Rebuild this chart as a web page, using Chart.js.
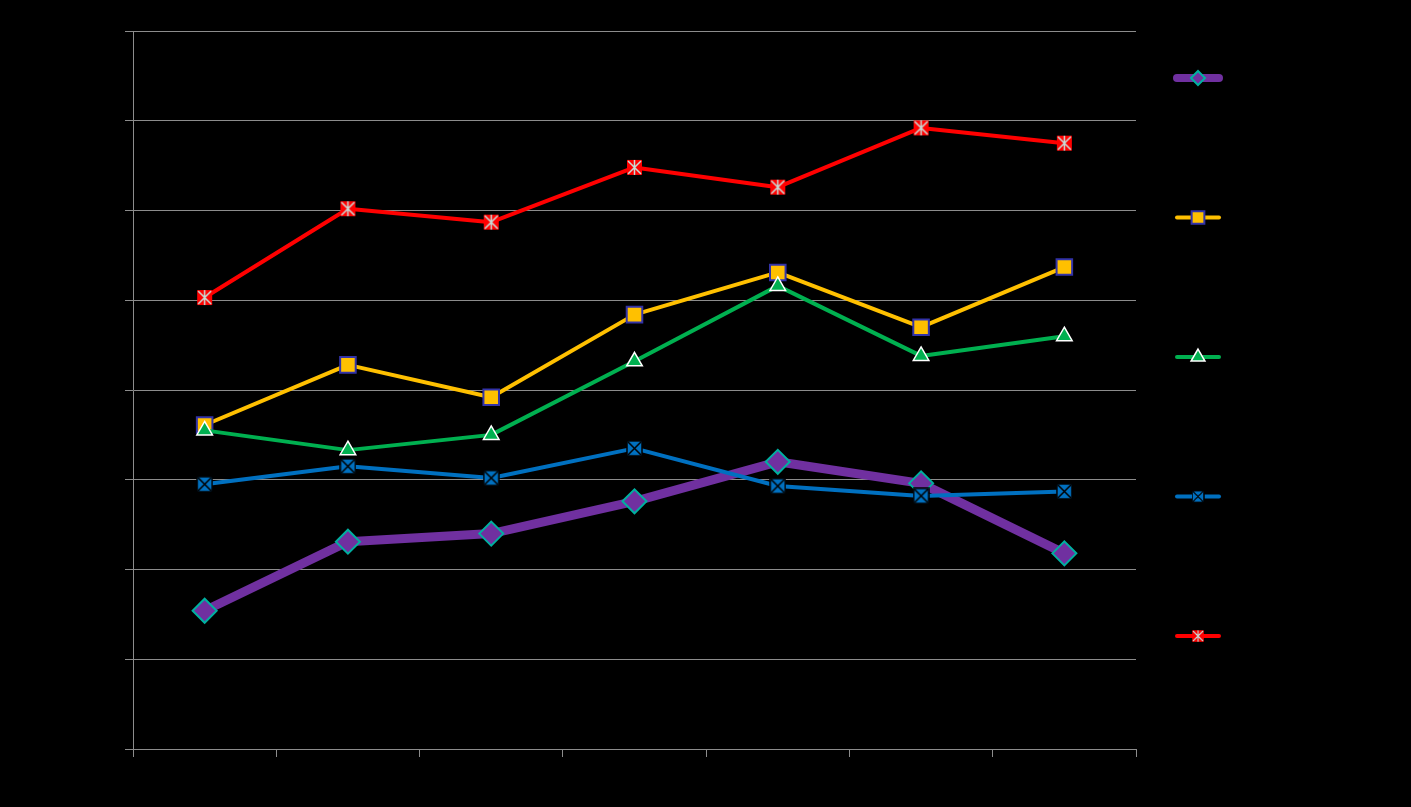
<!DOCTYPE html>
<html>
<head>
<meta charset="utf-8">
<script src="https://cdn.jsdelivr.net/npm/chart.js@4.4.1/dist/chart.umd.min.js"></script>
<style>
  html, body { margin: 0; padding: 0; background: #000; }
  #wrap { width: 1411px; height: 807px; }
</style>
</head>
<body>
<div id="wrap"><canvas id="chart"></canvas></div>
<script>
// Kategorien (ohne sichtbare Beschriftung im Original)
const categories = ['1', '2', '3', '4', '5', '6', '7'];
const yTicks = [0, 1, 2, 3, 4, 5, 6, 7, 8];

const purpleValues = [1.54, 2.31, 2.40, 2.76, 3.20, 2.96, 2.18];
const yellowValues = [3.61, 4.28, 3.92, 4.84, 5.31, 4.70, 5.37];
const greenValues  = [3.55, 3.33, 3.50, 4.32, 5.16, 4.38, 4.60];
const blueValues   = [2.95, 3.15, 3.02, 3.35, 2.93, 2.82, 2.87];
const redValues    = [5.03, 6.02, 5.87, 6.48, 6.26, 6.92, 6.75];

// Eigene Marker: blaues Quadrat mit X, rotes Quadrat mit Stern
function markerCanvas(size, draw) {
  const c = document.createElement('canvas');
  c.width = size; c.height = size;
  draw(c.getContext('2d'), size);
  return c;
}

function blueX(size) {
  return markerCanvas(size, (g, s) => {
    g.fillStyle = '#0070C0';
    g.fillRect(1, 1, s - 2, s - 2);
    g.strokeStyle = '#000';
    g.lineWidth = 1.5;
    g.strokeRect(1, 1, s - 2, s - 2);
    g.beginPath();
    g.moveTo(2, 2); g.lineTo(s - 2, s - 2);
    g.moveTo(s - 2, 2); g.lineTo(2, s - 2);
    g.stroke();
  });
}

function redStar(size) {
  return markerCanvas(size, (g, s) => {
    g.fillStyle = '#FF0000';
    g.fillRect(1, 1, s - 2, s - 2);
    g.strokeStyle = '#C8DED8';
    g.lineWidth = 1.5;
    g.beginPath();
    g.moveTo(2, 2); g.lineTo(s - 2, s - 2);
    g.moveTo(s - 2, 2); g.lineTo(2, s - 2);
    g.moveTo(s / 2, 1); g.lineTo(s / 2, s - 1);
    g.stroke();
  });
}

const blueMarker = blueX(17);
const redMarker = redStar(17);

const datasets = [
  {
    data: purpleValues, borderColor: '#7030A0', borderWidth: 9,
    pointStyle: 'rectRot', pointRadius: 12, pointHoverRadius: 12,
    pointBackgroundColor: '#7030A0', pointBorderColor: '#00B0A0', pointBorderWidth: 2,
    order: 5, legendWidth: 8, legendRadius: 7
  },
  {
    data: yellowValues, borderColor: '#FFC000', borderWidth: 4,
    pointStyle: 'rect', pointRadius: 11, pointHoverRadius: 11,
    pointBackgroundColor: '#FFC000', pointBorderColor: '#3333A8', pointBorderWidth: 2,
    order: 4, legendWidth: 4, legendRadius: 9
  },
  {
    data: greenValues, borderColor: '#00B050', borderWidth: 4,
    pointStyle: 'triangle', pointRadius: 9, pointHoverRadius: 9,
    pointBackgroundColor: '#00B050', pointBorderColor: '#FFFFFF', pointBorderWidth: 1.5,
    order: 3, legendWidth: 4, legendRadius: 8
  },
  {
    data: blueValues, borderColor: '#0070C0', borderWidth: 4,
    pointStyle: blueMarker, pointRadius: 8, pointHoverRadius: 8,
    order: 2, legendWidth: 4, legendRadius: 7
  },
  {
    data: redValues, borderColor: '#FF0000', borderWidth: 4,
    pointStyle: redMarker, pointRadius: 8, pointHoverRadius: 8,
    order: 1, legendWidth: 4, legendRadius: 7
  }
];

// Legende rechts: Linienstück mit Marker, ohne Text
const sideLegend = {
  id: 'sideLegend',
  afterDraw(chart) {
    const ctx = chart.ctx;
    const area = chart.chartArea;
    const x0 = area.right + 41, x1 = area.right + 83;
    const xm = (x0 + x1) / 2;
    const step = 139.5;
    chart.data.datasets.forEach((ds, i) => {
      const y = area.top + 47 + i * step;
      ctx.save();
      ctx.strokeStyle = ds.borderColor;
      ctx.lineWidth = ds.legendWidth;
      ctx.lineCap = 'round';
      ctx.beginPath();
      ctx.moveTo(x0, y); ctx.lineTo(x1, y);
      ctx.stroke();
      ctx.restore();
      if (ds.pointStyle instanceof HTMLCanvasElement) {
        const s = 13;
        ctx.drawImage(ds.pointStyle, xm - s / 2, y - s / 2, s, s);
      } else {
        Chart.helpers.drawPoint(ctx, {
          pointStyle: ds.pointStyle,
          radius: ds.legendRadius,
          borderWidth: ds.pointBorderWidth
        }, xm, y);
        ctx.save();
        ctx.fillStyle = ds.pointBackgroundColor;
        ctx.strokeStyle = ds.pointBorderColor;
        ctx.lineWidth = ds.pointBorderWidth;
        ctx.beginPath();
        Chart.helpers.drawPoint(ctx, {
          pointStyle: ds.pointStyle,
          radius: ds.legendRadius,
          borderWidth: ds.pointBorderWidth
        }, xm, y);
        ctx.restore();
      }
    });
  }
};

const gridGrey = '#8C8C8C';

new Chart(document.getElementById('chart'), {
  type: 'line',
  data: { labels: categories, datasets },
  options: {
    responsive: true,
    maintainAspectRatio: false,
    animation: false,
    layout: { padding: { left: 125, right: 275, top: 31, bottom: 50 } },
    elements: { line: { tension: 0, borderJoinStyle: 'round', borderCapStyle: 'round' } },
    scales: {
      x: {
        offset: true,
        grid: { offset: true, drawOnChartArea: false, drawTicks: true, tickLength: 8, color: gridGrey },
        border: { color: gridGrey, width: 1 },
        ticks: { display: false }
      },
      y: {
        min: yTicks[0],
        max: yTicks[yTicks.length - 1],
        afterBuildTicks: (scale) => { scale.ticks = yTicks.map(v => ({ value: v })); },
        grid: { color: gridGrey, drawTicks: true, tickLength: 8 },
        border: { color: gridGrey, width: 1 },
        ticks: { display: false }
      }
    },
    plugins: { legend: { display: false }, tooltip: { enabled: false } }
  },
  plugins: [sideLegend]
});
</script>
</body>
</html>
